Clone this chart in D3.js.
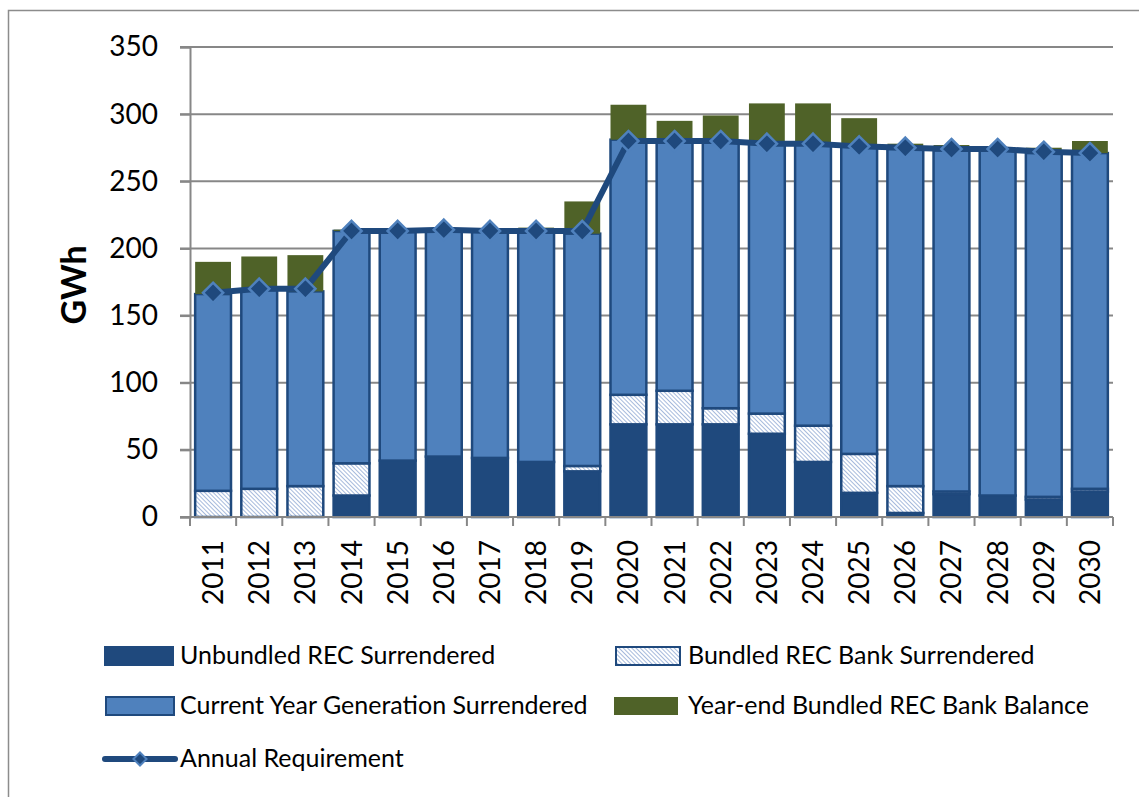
<!DOCTYPE html>
<html>
<script src = 'https://d3js.org/d3.v7.min.js'></script>
<style>
  body{ margin:0; background:white; }
  text{ font-family: Lato, 'Open Sans', sans-serif; }
</style>
<body>
<script>

// data (GWh)
var years = ["2011","2012","2013","2014","2015","2016","2017","2018","2019","2020",
             "2021","2022","2023","2024","2025","2026","2027","2028","2029","2030"];
var unbundled = [0, 0, 0, 16, 42, 45, 44, 41, 34, 69, 69, 69, 62, 41, 18, 3, 17, 16, 13, 19];
var bundledBank = [19.5, 21, 23, 24, 0, 0, 0, 0, 4, 22, 25, 12, 15, 27, 29, 20, 2, 0, 2, 2];
var currentGen = [146.5, 148, 145, 173, 171, 169, 169, 172, 173, 190, 186, 199, 201, 210, 229, 251, 254, 257, 256, 250];
var bankBalance = [24, 25, 27, 1, 0, 0, 0, 2.5, 24, 26, 15, 19, 30, 30, 21, 4, 4, 2, 4, 9];
var requirement = [167, 170, 170, 213, 213, 214, 213, 213, 213, 280, 280, 280, 278, 278, 276, 275, 274, 274, 272, 271];
var yTicks = [0, 50, 100, 150, 200, 250, 300, 350];

var seriesNames = ["Unbundled REC Surrendered", "Bundled REC Bank Surrendered",
                   "Current Year Generation Surrendered", "Year-end Bundled REC Bank Balance"];
var lineName = "Annual Requirement";

var width = 1139, height = 797;
var dark = "#1f497d", mid = "#4f81bd", green = "#4f6228", grid = "#878787";

var svg = d3.select("body").append("svg").attr("width", width).attr("height", height);

// hatch pattern for the bank surrendered series
var defs = svg.append("defs");
var pat = defs.append("pattern").attr("id", "hatch")
  .attr("patternUnits", "userSpaceOnUse").attr("width", 3).attr("height", 3)
  .attr("patternTransform", "rotate(-45)");
pat.append("rect").attr("width", 3).attr("height", 3).attr("fill", "white");
pat.append("line").attr("x1", 0).attr("y1", 0).attr("x2", 0).attr("y2", 3)
  .attr("stroke", "#8fa9d4").attr("stroke-width", 1.6);

// outer chart border (only top/left visible)
svg.append("rect").attr("x", 8.5).attr("y", 10.5).attr("width", 1200).attr("height", 900)
  .attr("fill", "none").attr("stroke", "#8c8c8c").attr("stroke-width", 1.5);

var x = d3.scaleBand().domain(years).range([190, 1113]).paddingInner(0.18).paddingOuter(0.09);
var y = d3.scaleLinear().domain([0, 350]).range([517, 47]);

// gridlines
svg.append("g").selectAll("line").data(yTicks).enter().append("line")
  .attr("x1", 180).attr("x2", 1113)
  .attr("y1", d => y(d)).attr("y2", d => y(d))
  .attr("stroke", grid).attr("stroke-width", 2);

// y axis
var yAxis = svg.append("g").attr("transform", "translate(190,0)")
  .call(d3.axisLeft(y).tickValues(yTicks).tickSize(10).tickPadding(22));
yAxis.select(".domain").attr("stroke", grid).attr("stroke-width", 2);
yAxis.selectAll(".tick line").attr("stroke", grid).attr("stroke-width", 2);
yAxis.selectAll(".tick text").attr("font-size", 28).attr("fill", "#000")
  .style("font-family", "Lato");

svg.append("text").attr("transform", "translate(86,285) rotate(-90)")
  .attr("text-anchor", "middle").attr("font-size", 34).attr("font-weight", "bold")
  .text("GWh");

// stacked bars
var table = years.map((yr, i) => ({year: yr, u: unbundled[i], b: bundledBank[i], c: currentGen[i], bal: bankBalance[i]}));
var stack = d3.stack().keys(["u", "b", "c", "bal"])(table);
var fills = {u: dark, b: "url(#hatch)", c: mid, bal: green};
var strokes = {u: dark, b: dark, c: dark, bal: "none"};

stack.forEach(function(layer) {
  svg.append("g").selectAll("rect").data(layer.filter(d => d[1] - d[0] > 0)).enter().append("rect")
    .attr("x", d => x(d.data.year) + 1)
    .attr("width", x.bandwidth() - 2)
    .attr("y", d => y(d[1]))
    .attr("height", d => y(d[0]) - y(d[1]))
    .attr("fill", fills[layer.key])
    .attr("stroke", strokes[layer.key])
    .attr("stroke-width", 2.5);
});

// x axis
var xBounds = years.map(d => x(d) - x.step() * x.paddingInner() / 2).concat([1113]);
svg.append("line").attr("x1", 180).attr("x2", 1113).attr("y1", y(0)).attr("y2", y(0))
  .attr("stroke", grid).attr("stroke-width", 2);
svg.append("g").selectAll("line").data(xBounds).enter().append("line")
  .attr("x1", d => d).attr("x2", d => d).attr("y1", y(0)).attr("y2", y(0) + 9)
  .attr("stroke", grid).attr("stroke-width", 2);
svg.append("g").selectAll("text").data(years).enter().append("text")
  .attr("transform", d => "translate(" + (x(d) + x.bandwidth() / 2 + 10) + ",540) rotate(-90)")
  .attr("text-anchor", "end").attr("font-size", 28).text(d => d);

// requirement line
var line = d3.line().x((d, i) => x(years[i]) + x.bandwidth() / 2).y(d => y(d));
svg.append("path").datum(requirement).attr("d", line)
  .attr("fill", "none").attr("stroke", dark).attr("stroke-width", 6);
svg.append("g").selectAll("path").data(requirement).enter().append("path")
  .attr("d", d3.symbol().type(d3.symbolDiamond2).size(260))
  .attr("transform", (d, i) => "translate(" + (x(years[i]) + x.bandwidth() / 2) + "," + y(d) + ")")
  .attr("fill", dark).attr("stroke", mid).attr("stroke-width", 2.5);

// legend
var leg = svg.append("g");
var legItems = [
  {name: seriesNames[0], fill: dark, stroke: dark, sx: 105, tx: 180, cy: 656},
  {name: seriesNames[1], fill: "url(#hatch)", stroke: dark, sx: 616, tx: 688, cy: 656},
  {name: seriesNames[2], fill: mid, stroke: dark, sx: 106, tx: 180, cy: 706},
  {name: seriesNames[3], fill: green, stroke: "none", sx: 614, tx: 688, cy: 706}
];
legItems.forEach(function(it) {
  var w = it.sx < 300 ? 68 : 64;
  leg.append("rect").attr("x", it.sx).attr("y", it.cy - 9).attr("width", w).attr("height", 18)
    .attr("fill", it.fill).attr("stroke", it.stroke).attr("stroke-width", 2);
  leg.append("text").attr("x", it.tx).attr("y", it.cy + 8).attr("font-size", 25).text(it.name);
});
leg.append("line").attr("x1", 105).attr("x2", 175).attr("y1", 759).attr("y2", 759)
  .attr("stroke", dark).attr("stroke-width", 6).attr("stroke-linecap", "round");
leg.append("path").attr("d", d3.symbol().type(d3.symbolDiamond2).size(110))
  .attr("transform", "translate(140,759)").attr("fill", dark).attr("stroke", mid).attr("stroke-width", 2);
leg.append("text").attr("x", 180).attr("y", 767).attr("font-size", 25).text(lineName);

</script>
</body>
</html>
